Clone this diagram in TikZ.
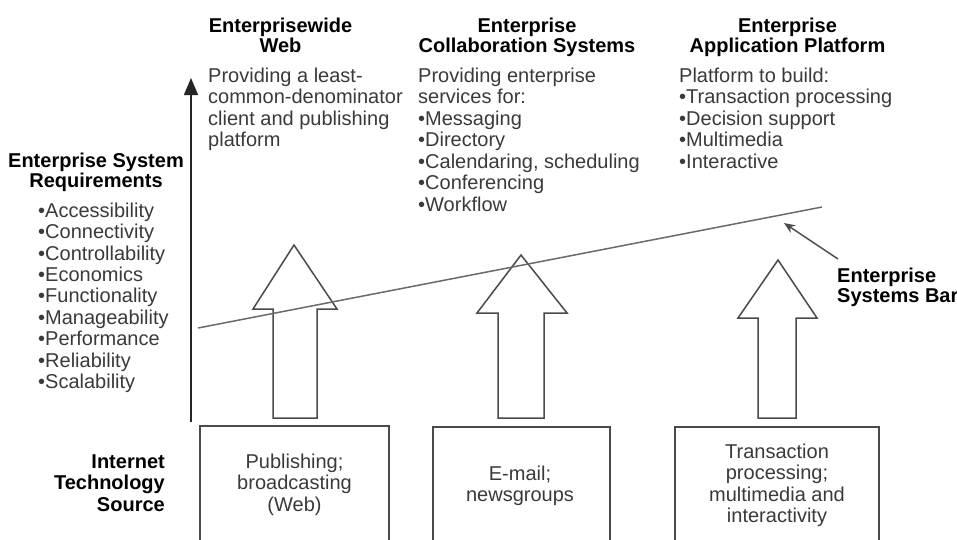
\documentclass[tikz,border=0pt]{standalone}
\usepackage{fontspec}
\setmainfont{Liberation Sans}
\usetikzlibrary{arrows.meta}
\definecolor{linegray}{HTML}{4A4A4A}
\definecolor{bargray}{HTML}{6A6A6A}
\definecolor{txtgray}{HTML}{3A3A3A}
\begin{document}
\begin{tikzpicture}[x=1pt,y=-1pt,
  bodytext/.style={font=\fontsize{20}{21.5}\selectfont, text=txtgray, inner sep=0pt, align=left, anchor=north west},
  boxtext/.style={font=\fontsize{20}{21.5}\selectfont, text=txtgray, inner sep=0pt, align=center, anchor=north},
  headtext/.style={font=\bfseries\fontsize{20}{20}\selectfont, text=black, inner sep=0pt, align=center, anchor=north},
  boxline/.style={draw=linegray, line width=1.5pt},
  barline/.style={draw=bargray, line width=1.5pt}]
\fill[white] (0,0) rectangle (957,539);
\useasboundingbox (0,0) rectangle (957,539);

% column headers
\node[headtext] (h1) at (280.5,17.5) {Enterprisewide\\Web};
\node[headtext] (h2) at (527,17.5) {Enterprise\\Collaboration Systems};
\node[headtext] (h3) at (787.5,17.5) {Enterprise\\Application Platform};

% column bodies
\node[bodytext] (b1) at (208,67.5) {Providing a least-\\common-denominator\\client and publishing\\platform};
\node[bodytext] (b2) at (418,67.5) {Providing enterprise\\services for:\\•Messaging\\•Directory\\•Calendaring, scheduling\\•Conferencing\\•Workflow};
\node[bodytext] (b3) at (679,67.5) {Platform to build:\\•Transaction processing\\•Decision support\\•Multimedia\\•Interactive};

% left requirements
\node[headtext] (rh) at (96,152.5) {Enterprise System\\Requirements};
\node[bodytext, font=\fontsize{20}{21.4}\selectfont] (rl) at (38,202.5) {•Accessibility\\•Connectivity\\•Controllability\\•Economics\\•Functionality\\•Manageability\\•Performance\\•Reliability\\•Scalability};

% internet technology source
\node[headtext, align=right, anchor=north east, font=\bfseries\fontsize{20}{21.5}\selectfont] (its) at (165,454.5) {Internet\\Technology\\Source};

% enterprise systems bar label
\node[headtext, align=left, anchor=north west] (esb) at (837,267.5) {Enterprise\\Systems Bar};

% vertical axis
\coordinate (axb) at (191,422);
\coordinate (axt) at (191,78);
\draw[boxline, draw=black!85, -{Triangle[width=14pt,length=17pt]}] (axb) -- (axt);

% source boxes (open at the bottom)
\draw[boxline] (200,545) |- (389,426) -- (389,545);
\draw[boxline] (433,545) |- (610,427) -- (610,545);
\draw[boxline] (675,545) |- (879,427) -- (879,545);
\node[boxtext] (t1) at (294.5,453.5) {Publishing;\\broadcasting\\(Web)};
\node[boxtext] (t2) at (520,465.5) {E-mail;\\newsgroups};
\node[boxtext] (t3) at (777,443.5) {Transaction\\processing;\\multimedia and\\interactivity};

% block arrows
\draw[boxline] (273,418) -- (273,309) -- (253,309) -- (294,245) -- (337,309) -- (317,309) -- (317,418) -- cycle;
\draw[boxline] (498,418) -- (498,313) -- (477,313) -- (521,255) -- (567,313) -- (544,313) -- (544,418) -- cycle;
\draw[boxline] (758,418) -- (758,318) -- (738,318) -- (778,260) -- (817,318) -- (796,318) -- (796,418) -- cycle;

% enterprise systems bar
\coordinate (bar1) at (198,328);
\coordinate (bar2) at (822,207);
\draw[barline] (bar1) -- (bar2);
\coordinate (ptail) at (838,259);
\coordinate (phead) at (784,223);
\draw[barline, draw=linegray, -{Stealth[length=11pt,width=9pt]}] (ptail) -- (phead);
\end{tikzpicture}
\end{document}
